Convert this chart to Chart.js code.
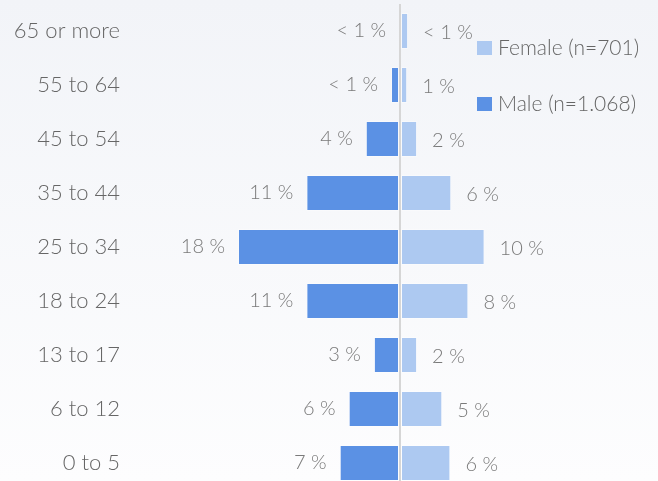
<!DOCTYPE html>
<html>
<head>
<meta charset="utf-8">
<script src="https://cdn.jsdelivr.net/npm/chart.js@4/dist/chart.umd.min.js"></script>
<style>
  html, body { margin: 0; padding: 0; overflow: hidden; }
  body { width: 658px; height: 481px; background: linear-gradient(#f2f4f8, #fdfdfe); }
  #wrap { position: relative; width: 658px; height: 490px; }
</style>
</head>
<body>
<div id="wrap"><canvas id="chart"></canvas></div>
<script>
// age groups, top to bottom
const ageGroups = ['65 or more', '55 to 64', '45 to 54', '35 to 44', '25 to 34', '18 to 24', '13 to 17', '6 to 12', '0 to 5'];

// bar lengths (share, %)
const maleShare   = [0.1, 1.0, 3.8, 10.4, 18.0, 10.4, 2.9, 5.7, 6.7];
const femaleShare = [0.9, 0.8, 1.9, 5.7, 9.4, 7.6, 1.9, 4.7, 5.6];

// printed value labels
const maleLabels   = ['< 1 %', '< 1 %', '4 %', '11 %', '18 %', '11 %', '3 %', '6 %', '7 %'];
const femaleLabels = ['< 1 %', '1 %', '2 %', '6 %', '10 %', '8 %', '2 %', '5 %', '6 %'];

const legendItems = ['Female (n=701)', 'Male (n=1.068)'];

const MALE = '#5b91e4';
const FEMALE = '#adc9f1';
const FONT = 'Lato, "Open Sans", sans-serif';

// writes the % labels next to the bar ends
const valueLabels = {
  id: 'valueLabels',
  afterDatasetsDraw(chart) {
    const ctx = chart.ctx;
    ctx.save();
    ctx.font = '300 20px ' + FONT;
    ctx.fillStyle = '#7a7a7a';
    ctx.textBaseline = 'middle';
    chart.getDatasetMeta(0).data.forEach((bar, i) => {
      ctx.textAlign = 'right';
      ctx.fillText(maleLabels[i], bar.x - 13, bar.y);
    });
    chart.getDatasetMeta(1).data.forEach((bar, i) => {
      ctx.textAlign = 'left';
      ctx.fillText(femaleLabels[i], bar.x + 15, bar.y + 2);
    });
    ctx.restore();
  }
};

// legend sits inside the plot, top right
const sideLegend = {
  id: 'sideLegend',
  afterDraw(chart) {
    const ctx = chart.ctx;
    const colors = [FEMALE, MALE];
    ctx.save();
    ctx.font = '300 21px ' + FONT;
    ctx.textBaseline = 'middle';
    ctx.textAlign = 'left';
    legendItems.forEach((txt, i) => {
      const y = 48 + i * 56;
      ctx.fillStyle = colors[i];
      ctx.fillRect(477, y - 7, 15, 14);
      ctx.fillStyle = '#666';
      ctx.fillText(txt, 498, y);
    });
    ctx.restore();
  }
};

new Chart(document.getElementById('chart'), {
  type: 'bar',
  data: {
    labels: ageGroups,
    datasets: [
      {
        label: 'Male',
        data: maleShare.map(v => -v),
        backgroundColor: MALE,
        borderColor: 'rgba(255,255,255,0.35)',
        borderWidth: 1,
        borderSkipped: false,
        barPercentage: 0.667,
        categoryPercentage: 1,
      },
      {
        label: 'Female',
        data: femaleShare,
        backgroundColor: FEMALE,
        borderColor: 'rgba(255,255,255,0.35)',
        borderWidth: 1,
        borderSkipped: false,
        barPercentage: 0.667,
        categoryPercentage: 1,
      },
    ],
  },
  options: {
    indexAxis: 'y',
    responsive: true,
    maintainAspectRatio: false,
    animation: false,
    layout: { padding: { top: 4, right: 0, bottom: 0, left: 0 } },
    plugins: { legend: { display: false }, tooltip: { enabled: false } },
    scales: {
      x: {
        stacked: true,
        min: -30,
        max: 28.667,
        ticks: { display: false, stepSize: 10 },
        border: { display: false },
        grid: {
          drawTicks: false,
          lineWidth: 2,
          color: c => (c.tick && c.tick.value === 0 ? '#d6d6d6' : 'transparent'),
        },
        afterFit: s => { s.height = 0; s.paddingLeft = 0; s.paddingRight = 0; },
      },
      y: {
        stacked: true,
        border: { display: false },
        grid: { display: false, drawTicks: false },
        ticks: { color: '#666', font: { family: FONT, size: 22, weight: 300 }, padding: 10 },
        afterFit: s => { s.width = 130; s.paddingTop = 0; s.paddingBottom = 0; },
      },
    },
  },
  plugins: [valueLabels, sideLegend],
});
</script>
</body>
</html>
